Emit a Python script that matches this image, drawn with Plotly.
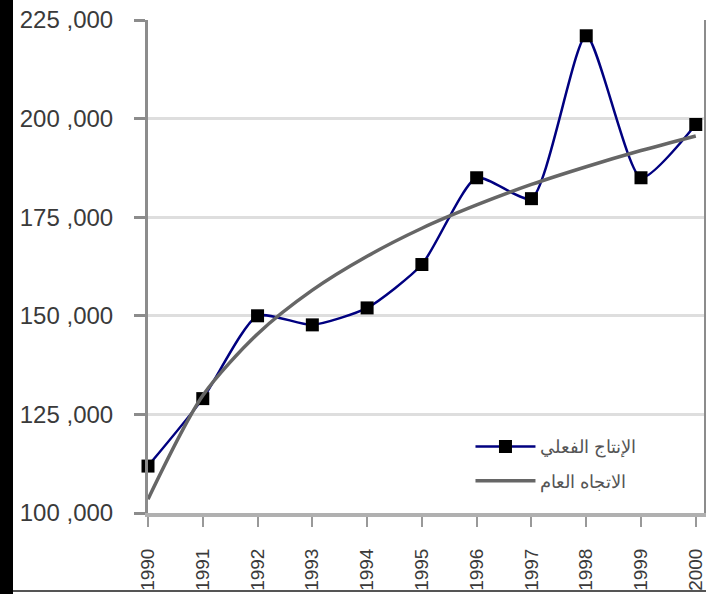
import plotly.graph_objects as go

years = [1990, 1991, 1992, 1993, 1994, 1995, 1996, 1997, 1998, 1999, 2000]
actual = [111900, 129000, 150000, 147700, 152000, 163000, 185000, 179700, 221000, 185000, 198500]
trend = [103500, 129800, 145400, 156500, 165100, 172200, 178100, 183300, 187800, 191900, 195600]
y_ticks = [100000, 125000, 150000, 175000, 200000, 225000]
y_labels = ["100 ,000", "125 ,000", "150 ,000", "175 ,000", "200 ,000", "225 ,000"]
name_actual = "الإنتاج الفعلي"
name_trend = "الاتجاه العام"

fig = go.Figure()
fig.add_trace(go.Scatter(
    x=years, y=actual, name=name_actual, mode="lines+markers", legendgroup="a",
    line=dict(color="#000080", width=2.5, shape="spline", smoothing=0.6),
    marker=dict(symbol="square", size=13, color="#000000"),
    cliponaxis=False,
))
fig.add_trace(go.Scatter(
    x=years, y=trend, name=name_trend, mode="lines", legendgroup="b",
    line=dict(color="#666666", width=3.5, shape="spline", smoothing=0.8),
))

fig.update_layout(
    width=706, height=594,
    margin=dict(l=148, r=2, t=20, b=81, autoexpand=False),
    paper_bgcolor="white", plot_bgcolor="white",
    showlegend=True,
    legend=dict(x=0.58, y=0.172, xanchor="left", yanchor="top",
                font=dict(family="Noto Sans", size=18, color="#555555"),
                bgcolor="rgba(255,255,255,0)", tracegroupgap=8, itemwidth=60,
                traceorder="grouped"),
    shapes=[
        dict(type="rect", xref="paper", yref="paper",
             x0=-148/556, x1=(13-148)/556, y0=-81/493, y1=1+20/493,
             fillcolor="black", line=dict(width=0), layer="below"),
        dict(type="line", xref="paper", yref="paper",
             x0=(13-148)/556, x1=1.004, y0=(513-591)/493, y1=(513-591)/493,
             line=dict(color="#555555", width=2)),
    ],
)
fig.update_xaxes(
    range=[1990, 2000.15], tickmode="array", tickvals=years,
    ticktext=[str(y) for y in years], tickangle=-90, automargin=False,
    ticklabeloverflow="allow",
    tickfont=dict(family="Liberation Sans", size=19, color="#3a3a3a"),
    ticklabelstandoff=14,
    showgrid=False, zeroline=False,
    showline=True, linecolor="#b0b0b0", linewidth=4,
    ticks="outside", ticklen=10, tickcolor="#999999", tickwidth=2,
)
fig.update_yaxes(
    range=[100000, 225000], tickmode="array", tickvals=y_ticks, ticktext=y_labels,
    automargin=False,
    tickfont=dict(family="Liberation Sans", size=24, color="#3a3a3a"),
    ticklabelstandoff=16,
    showgrid=True, gridcolor="#dedede", gridwidth=3, zeroline=False,
    showline=True, linecolor="#8c8c8c", linewidth=3, mirror=True,
    ticks="outside", ticklen=11, tickcolor="#8c8c8c", tickwidth=3,
)

fig.write_html("out.html", config={"displayModeBar": False},
               post_script="document.body.style.margin='0';document.body.style.overflow='hidden';")
